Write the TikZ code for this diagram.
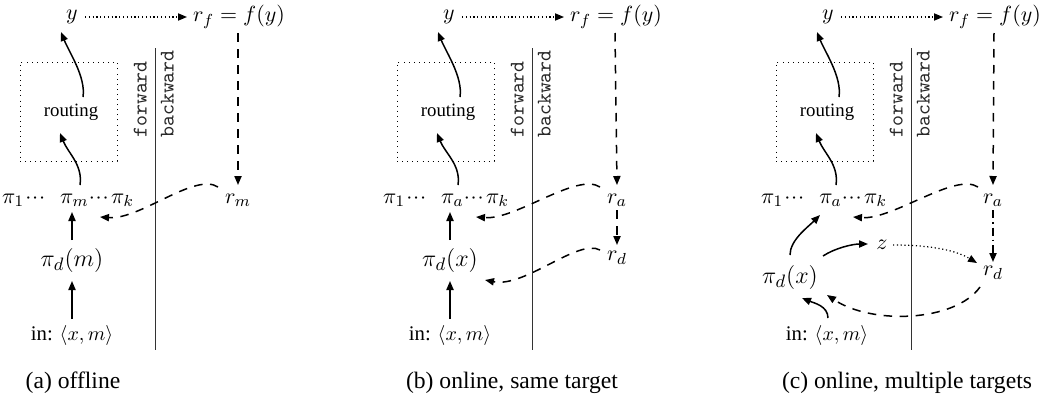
\documentclass[tikz,border=0pt]{standalone}
\usepackage[no-math]{fontspec}
\setmainfont{Liberation Serif}
\usetikzlibrary{arrows.meta}
\newcommand\tdots{\cdotp\mkern-2.3mu\cdotp\mkern-2.3mu\cdotp}
\newcommand\pirowtext[1]{$\pi_1\mkern1mu\tdots$\hspace{7.5pt}$\pi_{#1}\tdots\mkern-1mu\pi_k$}
\tikzset{
  mth/.style={inner sep=0pt, font=\fontsize{11}{13}\selectfont},
  bigmth/.style={inner sep=0pt, font=\fontsize{12.3}{14}\selectfont},
  intxt/.style={inner sep=0pt, font=\fontsize{10.4}{12}\selectfont},
  rtxt/.style={inner sep=0pt, font=\fontsize{9.4}{11}\selectfont},
  dirlbl/.style={inner sep=0pt, rotate=90, anchor=base west, text=black!85, font=\ttfamily\fontsize{10.4}{12}\selectfont},
  captxt/.style={inner sep=0pt, font=\fontsize{11.8}{14}\selectfont},
  routebox/.style={draw, line width=0.45pt, dash pattern=on 0.45pt off 2.1pt, minimum width=48.5pt, minimum height=49.5pt, inner sep=0pt},
  sepline/.style={line width=0.5pt, black!80},
  arr/.style={line width=0.75pt, -{Triangle[length=4.5pt,width=3.6pt]}},
  dsharr/.style={arr, dash pattern=on 4.25pt off 3.75pt},
  dotarr/.style={arr, line width=0.6pt, dash pattern=on 0.6pt off 1.3pt},
  ddarr/.style={arr, dash pattern=on 4pt off 2pt on 0.8pt off 2pt},
}
\newcommand\topnodes{%
  \node[mth] (y) at (72,17) {$y$};
  \node[mth] (rf) at (239,17) {$r_f = f(y)$};
  \node[routebox] (box) at (68.5,111.5) {};
  \node[rtxt] (rt) at (71,112) {routing};
  \draw[sepline] (155.5,48) -- (155.5,350);
  \node[dirlbl] (fw) at (146.5,138) {forward};
  \node[dirlbl] (bw) at (173.5,138) {backward};
}
\newcommand\toparrows{%
  \draw[dotarr] ([shift={(13,0)}]y.center) -- ([shift={(-52,0)}]rf.center);
  \draw[arr] ([shift={(12,-15)}]pirow.center) .. controls +(3,-20) and +(8,20) .. ([shift={(-11,21)}]rt.center);
  \draw[arr] ([shift={(12,-15)}]rt.center) .. controls +(3,-20) and +(8,20) .. ([shift={(-11,15)}]y.center);
}
\begin{document}
\begin{tikzpicture}[x=0.5pt,y=-0.5pt]
\useasboundingbox (0,0) rectangle (1040,402);
% ---------- (a) ----------
\begin{scope}[name prefix=a-]
  \topnodes
  \node[mth] (pirow) at (68,200) {\pirowtext{m}};
  \node[mth] (rm) at (238,200) {$r_m$};
  \node[bigmth] (pid) at (72,260) {$\pi_d(m)$};
  \node[intxt] (in) at (72,335) {in: $\langle x, m\rangle$};
  \toparrows
  \draw[dsharr] ([shift={(-1,16)}]rf.center) -- ([shift={(0,-15)}]rm.center);
  \draw[arr] ([shift={(0,-20)}]pid.center) -- ([shift={(4,12)}]pirow.center);
  \draw[arr] ([shift={(0,-16)}]in.center) -- ([shift={(0,21)}]pid.center);
  \draw[dsharr] ([shift={(-20,-13)}]rm.center) .. controls +(-23,-15) and +(40,3) .. ([shift={(32,17)}]pirow.center);
\end{scope}
% ---------- (b) ----------
\begin{scope}[shift={(377,0)}, name prefix=b-]
  \topnodes
  \node[mth] (pirow) at (69,200) {\pirowtext{a}};
  \node[mth] (ra) at (240,200) {$r_a$};
  \node[mth] (rd) at (240,258) {$r_d$};
  \node[bigmth] (pid) at (73,260) {$\pi_d(x)$};
  \node[intxt] (in) at (73,335) {in: $\langle x, m\rangle$};
  \toparrows
  \draw[dsharr] ([shift={(-1,16)}]rf.center) -- ([shift={(0,-15)}]ra.center);
  \draw[dsharr] ([shift={(0,10)}]ra.center) -- ([shift={(0,-13)}]rd.center);
  \draw[arr] ([shift={(0,-20)}]pid.center) -- ([shift={(4,12)}]pirow.center);
  \draw[arr] ([shift={(0,-16)}]in.center) -- ([shift={(0,21)}]pid.center);
  \draw[dsharr] ([shift={(-17,-13)}]ra.center) .. controls +(-23,-15) and +(40,3) .. ([shift={(30,17)}]pirow.center);
  \draw[dsharr] ([shift={(-17,-8)}]rd.center) .. controls +(-22,-12) and +(40,8) .. ([shift={(35,20)}]pid.center);
\end{scope}
% ---------- (c) ----------
\begin{scope}[shift={(756,0)}, name prefix=c-]
  \topnodes
  \node[mth] (pirow) at (68,200) {\pirowtext{a}};
  \node[mth] (ra) at (237,200) {$r_a$};
  \node[mth] (rd) at (237,273) {$r_d$};
  \node[bigmth] (pid) at (34,277) {$\pi_d(x)$};
  \node[mth] (z) at (126,245) {$z$};
  \node[intxt] (in) at (71,335) {in: $\langle x, m\rangle$};
  \toparrows
  \draw[dsharr] ([shift={(-1,16)}]rf.center) -- ([shift={(0,-15)}]ra.center);
  \draw[ddarr] ([shift={(0,10)}]ra.center) -- ([shift={(0,-11)}]rd.center);
  \draw[dsharr] ([shift={(-15,-13)}]ra.center) .. controls +(-23,-15) and +(40,3) .. ([shift={(29,17)}]pirow.center);
  \draw[arr] ([shift={(0,-22)}]pid.center) .. controls +(0,-15) and +(-12,12) .. ([shift={(-4,15)}]pirow.center);
  \draw[arr] ([shift={(33,-21)}]pid.center) .. controls +(12,-8) and +(-15,0) .. ([shift={(-14,-1)}]z.center);
  \draw[dotarr] ([shift={(11,0)}]z.center) .. controls +(40,0) and +(-20,-12) .. ([shift={(-16,-10)}]rd.center);
  \draw[dsharr] ([shift={(-13,14)}]rd.center) .. controls +(-25,35) and +(45,30) .. ([shift={(37,18)}]pid.center);
  \draw[arr] ([shift={(1,-17)}]in.center) .. controls +(0,-12) and +(12,5) .. ([shift={(12,21)}]pid.center);
\end{scope}
% ---------- captions ----------
\node[captxt] (capa) at (73,383) {(a) offline};
\node[captxt] (capb) at (512,383) {(b) online, same target};
\node[captxt] (capc) at (907,383) {(c) online, multiple targets};
\end{tikzpicture}
\end{document}
